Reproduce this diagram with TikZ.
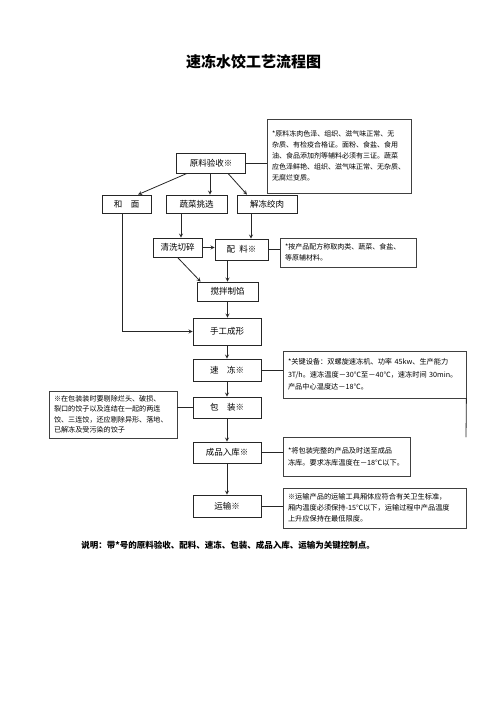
\documentclass[tikz,border=0pt]{standalone}
\usepackage{fontspec}
\setmainfont{Noto Sans CJK SC}
\usetikzlibrary{arrows,positioning}

\begin{document}
\begin{tikzpicture}[->, >=stealth, x=1pt, y=-1pt, line cap=round, draw=black!85]
   \tikzstyle{proc}=[-, rectangle, draw=black!85, inner sep=0pt, minimum width=68pt, minimum height=21pt, font=\fontsize{8.5}{10}\selectfont]
   \tikzstyle{memo}=[-, rectangle, draw=black!75, inner xsep=5pt, inner ysep=0pt, align=left, font=\fontsize{7.2}{11}\selectfont]
   \tikzstyle{every path}=[line width=.8pt]

   \useasboundingbox (0,0) rectangle (500,707);

   \node[font=\fontsize{15}{18}\selectfont\bfseries] (title) at (253.5,62) {速冻水饺工艺流程图};

   \node[proc, minimum width=69pt, minimum height=20pt] (yanshou) at (211,163) {原料验收※};
   \node[proc, minimum width=49pt, minimum height=18pt] (hemian) at (126.5,204) {和\hspace{1em}面};
   \node[proc, minimum width=61pt, minimum height=18pt] (shucai) at (196.5,204) {蔬菜挑选};
   \node[proc, minimum width=60pt, minimum height=18pt] (jiedong) at (267,204) {解冻绞肉};
   \node[proc, minimum width=49pt, minimum height=19pt] (qingxi) at (177.5,247.5) {清洗切碎};
   \node[proc, minimum width=53pt] (peiliao) at (241.5,249.5) {配\hspace{.5em}料※};
   \node[proc, minimum width=61pt, minimum height=19pt] (jiaoban) at (227.5,291.5) {搅拌制馅};
   \node[proc, minimum height=27pt] (shougong) at (227,331.5) {手工成形};
   \node[proc, minimum height=22pt, node distance=38.5pt] (sudong) [below of=shougong] {速\hspace{1em}冻※};
   \node[proc, node distance=37.5pt] (baozhuang) [below of=sudong] {包\hspace{1em}装※};
   \node[proc, node distance=45pt] (chengpin) [below of=baozhuang] {成品入库※};
   \node[proc, minimum height=22pt, node distance=53.5pt] (yunshu) [below of=chengpin] {运输※};

   \node[memo, text width=134pt, minimum height=74pt, font=\fontsize{7}{11}\selectfont] (note1) at (339,156) {*原料冻肉色泽、组织、滋气味正常、无\\杂质、有检疫合格证。面粉、食盐、食用\\油、食品添加剂等辅料必须有三证。蔬菜\\应色泽鲜艳、组织、滋气味正常、无杂质、\\无腐烂变质。};
   \node[memo, text width=126pt, minimum height=29pt, font=\fontsize{7}{11}\selectfont] (note2) at (348,252.5) {*按产品配方称取肉类、蔬菜、食盐、\\等原辅材料。};
   \node[memo, text width=173pt, minimum height=47pt, font=\fontsize{7.2}{12.5}\selectfont] (note3) at (374.5,374.5) {*关键设备：双螺旋速冻机、功率 45kw、生产能力\\3T/h。速冻温度－30℃至－40℃，速冻时间 30min。\\产品中心温度达－18℃。};
   \node[memo, text width=118pt, minimum height=47pt, font=\fontsize{7.1}{10.5}\selectfont] (pack_note) at (113,414.5) {※在包装装时要剔除烂头、破损、\\裂口的饺子以及连结在一起的两连\\饺、三连饺，还应剔除异形、落地、\\已解冻及受污染的饺子};
   \node[memo, text width=117pt, minimum height=39pt, font=\fontsize{7.2}{12.5}\selectfont] (note4) at (346.5,456.5) {*将包装完整的产品及时送至成品\\冻库。要求冻库温度在－18℃以下。};
   \node[memo, text width=173pt, minimum height=40pt] (note5) at (374.5,508) {※运输产品的运输工具厢体应符合有关卫生标准，\\厢内温度必须保持-15℃以下，运输过程中产品温度\\上升应保持在最低限度。};

   \node[anchor=west, inner sep=0pt, font=\fontsize{8.5}{10}\selectfont\bfseries] (remark) at (81,545) {说明：带*号的原料验收、配料、速冻、包装、成品入库、运输为关键控制点。};

   \coordinate (tail) at (466,437);

   \path

  ([xshift=-24pt]yanshou.south)
    edge ([xshift=11.5pt]hemian.north)
  ([xshift=-1pt]yanshou.south)
    edge ([xshift=-1pt]yanshou.south |- shucai.north)
  ([xshift=17pt]yanshou.south)
    edge ([xshift=-20pt]jiedong.north)
  ([xshift=-4pt]hemian.south)
    edge [to path={|- (\tikztotarget)}] (shougong)
  ([xshift=3.5pt]qingxi.north |- shucai.south)
    edge ([xshift=3.5pt]qingxi.north)
  ([xshift=9.5pt]peiliao.north |- jiedong.south)
    edge ([xshift=9.5pt]peiliao.north)
  (qingxi.east)
    edge (qingxi.east -| peiliao.west)
  (qingxi.south)
    edge ([xshift=4pt]jiaoban.north west)
  (jiaoban.north |- peiliao.south)
    edge (jiaoban.north)
  (jiaoban.south)
    edge (jiaoban.south |- shougong.north)
  (shougong.south)
    edge (sudong.north)
  (sudong.south)
    edge (baozhuang.north)
  (baozhuang.south)
    edge (chengpin.north)
  (chengpin.south)
    edge (yunshu.north)

  (yanshou.east)
    edge [-] (yanshou.east -| note1.west)
  (peiliao.east)
    edge [-] (peiliao.east -| note2.west)
  (sudong.east)
    edge [-] (sudong.east -| note3.west)
  (pack_note.east |- baozhuang.west)
    edge [-] (baozhuang.west)
  (chengpin.east)
    edge [-] (chengpin.east -| note4.west)
  (yunshu.east)
    edge [-] (yunshu.east -| note5.west)
  (note3.south east)
    edge [-] (tail)
   ;
\end{tikzpicture}
\end{document}
